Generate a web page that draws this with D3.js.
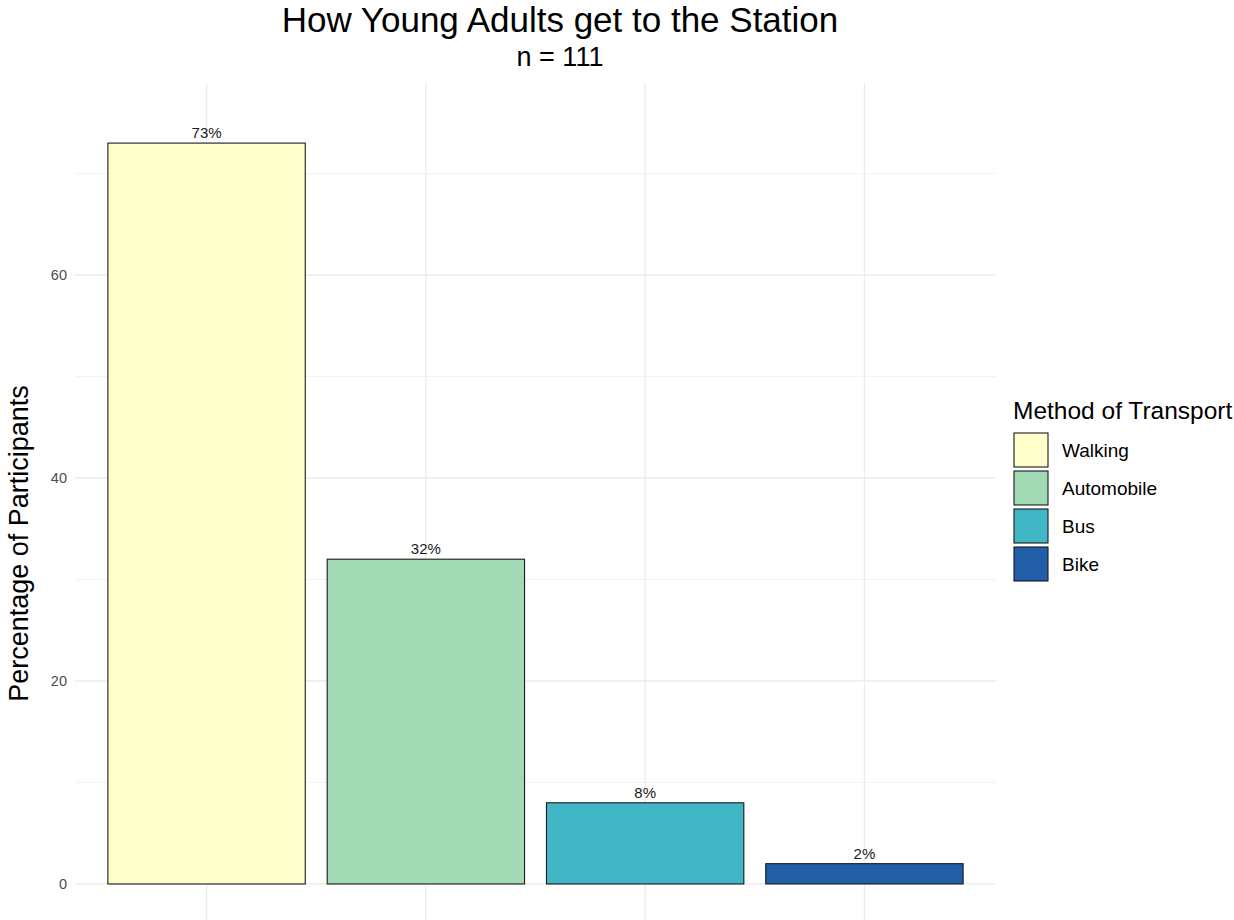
<!DOCTYPE html>
<html>
<head>
<meta charset="utf-8">
<script src="https://cdn.jsdelivr.net/npm/d3@7/dist/d3.min.js"></script>
<style>
  html, body { margin: 0; padding: 0; background: #fff; }
  text { font-family: "Liberation Sans", Arial, sans-serif; }
</style>
</head>
<body>
<svg id="chart" width="1234" height="920"></svg>
<script>
// Share of participants by method of transport
const categories = ["Walking", "Automobile", "Bus", "Bike"];
const percentages = [73, 32, 8, 2];
const colors = ["#FFFFCC", "#A1DAB4", "#41B6C4", "#225EA8"];
const majorTicks = [0, 20, 40, 60];
const minorTicks = [10, 30, 50, 70];

const svg = d3.select("#chart");

const panel = { left: 75, right: 996, top: 83, bottom: 920 };

const x = d3.scaleBand()
  .domain(categories)
  .range([panel.left, panel.right])
  .paddingInner(0.1)
  .paddingOuter(0.15);

const y = d3.scaleLinear()
  .domain([-3.55, 78.92])
  .range([panel.bottom, panel.top]);

const fill = d3.scaleOrdinal().domain(categories).range(colors);

// grid
const grid = svg.append("g");
grid.selectAll("line.minor").data(minorTicks).join("line")
  .attr("x1", panel.left).attr("x2", panel.right)
  .attr("y1", d => y(d)).attr("y2", d => y(d))
  .attr("stroke", "#f2f2f2").attr("stroke-width", 0.9);
grid.selectAll("line.major").data(majorTicks).join("line")
  .attr("x1", panel.left).attr("x2", panel.right)
  .attr("y1", d => y(d)).attr("y2", d => y(d))
  .attr("stroke", "#ebebeb").attr("stroke-width", 1.3);
grid.selectAll("line.vert").data(categories).join("line")
  .attr("x1", d => x(d) + x.bandwidth() / 2).attr("x2", d => x(d) + x.bandwidth() / 2)
  .attr("y1", panel.top).attr("y2", panel.bottom)
  .attr("stroke", "#ebebeb").attr("stroke-width", 1.3);

// y axis labels
const yAxis = d3.axisLeft(y).tickValues(majorTicks).tickSize(0).tickPadding(8);
const ya = svg.append("g").attr("transform", `translate(${panel.left},0)`).call(yAxis);
ya.select(".domain").remove();
ya.selectAll("text").attr("fill", "#4d4d4d").style("font-size", "14.5px")
  .style("font-family", "'Liberation Sans', Arial, sans-serif");

// bars
const data = categories.map((c, i) => ({ cat: c, val: percentages[i] }));
svg.append("g").selectAll("rect").data(data).join("rect")
  .attr("x", d => x(d.cat))
  .attr("width", x.bandwidth())
  .attr("y", d => y(d.val))
  .attr("height", d => y(0) - y(d.val))
  .attr("fill", d => fill(d.cat))
  .attr("stroke", "#1a1a1a")
  .attr("stroke-width", 1.1);

// value labels
svg.append("g").selectAll("text").data(data).join("text")
  .attr("x", d => x(d.cat) + x.bandwidth() / 2)
  .attr("y", d => y(d.val) - 5)
  .attr("text-anchor", "middle")
  .attr("fill", "#1a1a1a")
  .style("font-size", "15px")
  .text(d => d.val + "%");

// title and subtitle
svg.append("text").attr("x", 560).attr("y", 32).attr("text-anchor", "middle")
  .style("font-size", "35px").attr("fill", "#000")
  .text("How Young Adults get to the Station");
svg.append("text").attr("x", 560).attr("y", 66).attr("text-anchor", "middle")
  .style("font-size", "27px").attr("fill", "#000")
  .text("n = 111");

// y axis title
svg.append("text")
  .attr("transform", `translate(28,${(380 + 707) / 2}) rotate(-90)`)
  .attr("text-anchor", "middle")
  .style("font-size", "27px").attr("fill", "#000")
  .text("Percentage of Participants");

// legend
const legend = svg.append("g").attr("transform", "translate(1013,0)");
legend.append("text").attr("x", 0).attr("y", 419)
  .style("font-size", "24.5px").attr("fill", "#000")
  .text("Method of Transport");
const keys = legend.selectAll("g.key").data(categories).join("g")
  .attr("transform", (d, i) => `translate(0,${433 + i * 38})`);
keys.append("rect")
  .attr("x", 1).attr("y", 0).attr("width", 34).attr("height", 34)
  .attr("fill", d => fill(d)).attr("stroke", "#1a1a1a").attr("stroke-width", 1.1);
keys.append("text").attr("x", 49).attr("y", 17).attr("dy", "0.36em")
  .style("font-size", "19px").attr("fill", "#000")
  .text(d => d);
</script>
</body>
</html>
